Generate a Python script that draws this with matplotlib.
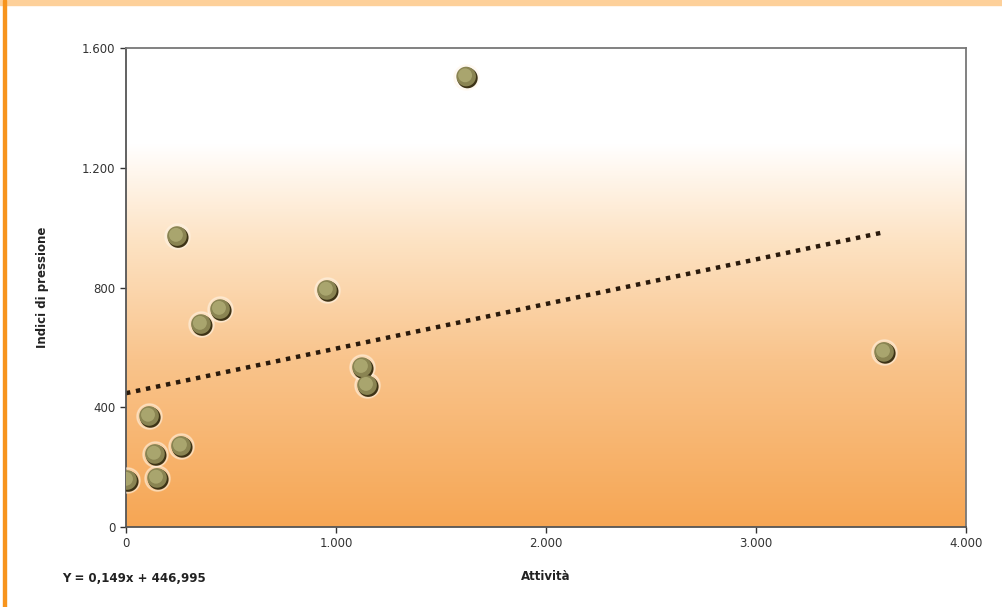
import numpy as np
import matplotlib.pyplot as plt
from matplotlib.colors import LinearSegmentedColormap
from matplotlib.patches import Rectangle

# Attività (x) and Indici di pressione (y)
attivita = [1620, 243, 448, 357, 957, 3610, 1124, 1148, 110, 262, 138, 148, 5]
pressione = [1505, 972, 728, 678, 792, 585, 534, 474, 371, 271, 244, 164, 157]

# trend line Y = 0,149x + 446,995
slope, intercept = 0.149, 446.995
trend_x = [0, 3600]

x_ticks = [0, 1000, 2000, 3000, 4000]
x_labels = ['0', '1.000', '2.000', '3.000', '4.000']
y_ticks = [0, 400, 800, 1200, 1600]
y_labels = ['0', '400', '800', '1.200', '1.600']

fig = plt.figure(figsize=(10.02, 6.07), dpi=100)
ax = fig.add_axes([0.1257, 0.1318, 0.8383, 0.789])

# frame decorations
fig.patches.append(Rectangle((0, 0.991), 1, 0.009, transform=fig.transFigure,
                             color='#fdd09a', zorder=0))
fig.patches.append(Rectangle((0.003, 0), 0.0025, 1, transform=fig.transFigure,
                             color='#f7941d', zorder=0))

# background gradient: white at top, orange at the bottom
cmap = LinearSegmentedColormap.from_list(
    'bg', [(0, '#f6a654'), (0.35, '#f9c48c'), (0.6, '#fde3c4'),
           (0.73, '#fff5ea'), (0.8, '#ffffff'), (1, '#ffffff')])
grad = np.linspace(0, 1, 256).reshape(-1, 1)
ax.imshow(grad, extent=[0, 4000, 0, 1600], origin='lower', aspect='auto',
          cmap=cmap, zorder=0)

# trend line
tx = np.array(trend_x)
ax.plot(tx, slope * tx + intercept, linestyle=(0, (1, 1.3)), color='#2a1a0c',
        linewidth=3.2, zorder=2)

# points: shaded spheres
px = np.array(attivita)
py = np.array(pressione)
ax.scatter(px, py, s=330, color='#fff6e8', alpha=0.45, zorder=3)
ax.scatter(px + 6, py - 5, s=220, color='#3d3316', edgecolors='none', zorder=4)
ax.scatter(px, py, s=200, color='#8a8452', edgecolors='none', zorder=5)
ax.scatter(px - 5, py + 4, s=100, color='#afac74', edgecolors='none', alpha=0.85,
           zorder=6)

ax.set_xlim(0, 4000)
ax.set_ylim(0, 1600)
ax.set_xticks(x_ticks, x_labels)
ax.set_yticks(y_ticks, y_labels)
ax.tick_params(labelsize=8.5, colors='#333333', length=4, width=1)
for side in ['left', 'bottom']:
    ax.spines[side].set_color('#555555')
    ax.spines[side].set_linewidth(1.3)
for side in ['top', 'right']:
    ax.spines[side].set_color('#777777')
    ax.spines[side].set_linewidth(1.3)

ax.set_ylabel('Indici di pressione', fontsize=8.5, fontweight='bold', color='#222222',
              labelpad=24)
ax.set_xlabel('Attività', fontsize=8.5, fontweight='bold', color='#222222', labelpad=14)
fig.text(0.062, 0.042, 'Y = 0,149x + 446,995', fontsize=8.5, fontweight='bold',
         color='#222222')

fig.savefig('out.png', dpi=100)
